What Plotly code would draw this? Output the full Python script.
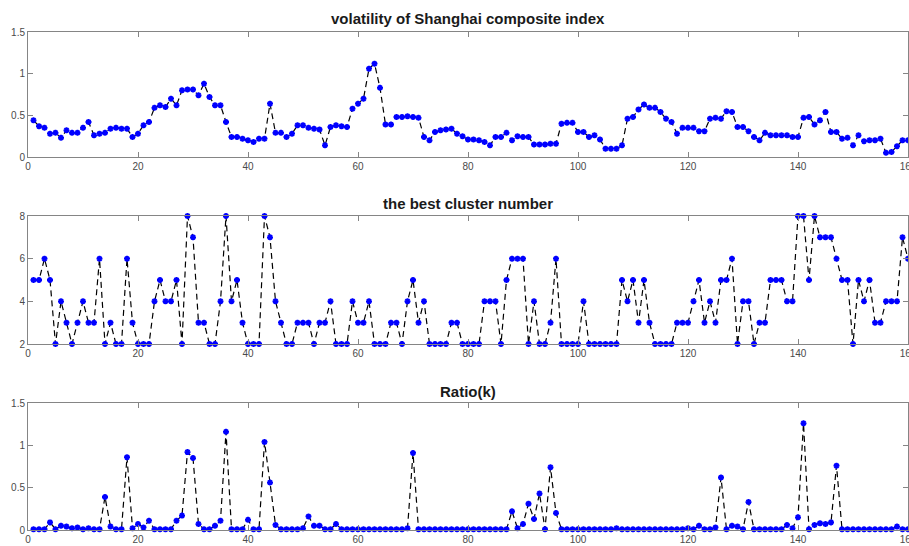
import plotly.graph_objects as go

x_index = list(range(1, 161))

volatility = [
    0.44, 0.37, 0.35, 0.28, 0.29, 0.23, 0.32, 0.29, 0.29, 0.35,
    0.42, 0.26, 0.28, 0.29, 0.34, 0.35, 0.34, 0.34, 0.24, 0.28,
    0.38, 0.42, 0.59, 0.62, 0.60, 0.70, 0.62, 0.80, 0.81, 0.81,
    0.74, 0.88, 0.72, 0.62, 0.62, 0.42, 0.24, 0.24, 0.22, 0.20,
    0.18, 0.22, 0.22, 0.64, 0.29, 0.29, 0.24, 0.28, 0.38, 0.38,
    0.35, 0.34, 0.33, 0.14, 0.36, 0.38, 0.37, 0.36, 0.58, 0.64,
    0.70, 1.06, 1.12, 0.83, 0.39, 0.39, 0.48, 0.48, 0.49, 0.48,
    0.47, 0.24, 0.20, 0.30, 0.32, 0.33, 0.34, 0.28, 0.25, 0.21,
    0.21, 0.20, 0.18, 0.14, 0.24, 0.24, 0.29, 0.20, 0.25, 0.24,
    0.24, 0.15, 0.15, 0.15, 0.16, 0.16, 0.40, 0.41, 0.41, 0.30,
    0.30, 0.24, 0.26, 0.21, 0.10, 0.10, 0.10, 0.14, 0.46, 0.48,
    0.57, 0.63, 0.59, 0.59, 0.54, 0.46, 0.42, 0.28, 0.35, 0.35,
    0.35, 0.31, 0.31, 0.46, 0.47, 0.46, 0.55, 0.54, 0.36, 0.36,
    0.31, 0.24, 0.20, 0.29, 0.26, 0.26, 0.26, 0.26, 0.24, 0.24,
    0.47, 0.48, 0.39, 0.44, 0.54, 0.30, 0.30, 0.22, 0.23, 0.14,
    0.26, 0.19, 0.20, 0.20, 0.22, 0.05, 0.06, 0.13, 0.20, 0.20,
]

cluster_number = [
    5, 5, 6, 5, 2, 4, 3, 2, 3, 4,
    3, 3, 6, 2, 3, 2, 2, 6, 3, 2,
    2, 2, 4, 5, 4, 4, 5, 2, 8, 7,
    3, 3, 2, 2, 4, 8, 4, 5, 3, 2,
    2, 2, 8, 7, 4, 3, 2, 2, 3, 3,
    3, 2, 3, 3, 4, 2, 2, 2, 4, 3,
    3, 4, 2, 2, 2, 3, 3, 2, 4, 5,
    3, 4, 2, 2, 2, 2, 3, 3, 2, 2,
    2, 2, 4, 4, 4, 2, 5, 6, 6, 6,
    2, 4, 2, 2, 3, 6, 2, 2, 2, 2,
    4, 2, 2, 2, 2, 2, 2, 5, 4, 5,
    3, 5, 3, 2, 2, 2, 2, 3, 3, 3,
    4, 5, 3, 4, 3, 5, 5, 6, 2, 4,
    4, 2, 3, 3, 5, 5, 5, 4, 4, 8,
    8, 5, 8, 7, 7, 7, 6, 5, 5, 2,
    5, 4, 5, 3, 3, 4, 4, 4, 7, 6,
]

ratio_k = [
    0.01, 0.01, 0.01, 0.09, 0.01, 0.05, 0.04, 0.02, 0.03, 0.01,
    0.02, 0.01, 0.01, 0.39, 0.04, 0.01, 0.01, 0.86, 0.02, 0.07,
    0.03, 0.11, 0.01, 0.01, 0.01, 0.01, 0.11, 0.17, 0.92, 0.85,
    0.07, 0.01, 0.01, 0.05, 0.11, 1.16, 0.01, 0.01, 0.01, 0.12,
    0.01, 0.01, 1.04, 0.56, 0.06, 0.01, 0.01, 0.01, 0.01, 0.02,
    0.16, 0.05, 0.05, 0.01, 0.01, 0.07, 0.01, 0.01, 0.01, 0.01,
    0.01, 0.01, 0.01, 0.01, 0.01, 0.01, 0.01, 0.01, 0.02, 0.91,
    0.01, 0.01, 0.01, 0.01, 0.01, 0.01, 0.01, 0.01, 0.01, 0.01,
    0.01, 0.01, 0.01, 0.01, 0.01, 0.01, 0.01, 0.22, 0.02, 0.07,
    0.31, 0.13, 0.43, 0.01, 0.74, 0.20, 0.01, 0.01, 0.01, 0.01,
    0.01, 0.01, 0.01, 0.01, 0.01, 0.01, 0.02, 0.01, 0.01, 0.01,
    0.01, 0.01, 0.01, 0.01, 0.01, 0.01, 0.01, 0.01, 0.01, 0.02,
    0.01, 0.05, 0.01, 0.01, 0.03, 0.62, 0.01, 0.05, 0.04, 0.01,
    0.33, 0.01, 0.01, 0.01, 0.01, 0.01, 0.01, 0.06, 0.02, 0.15,
    1.26, 0.01, 0.06, 0.08, 0.07, 0.09, 0.76, 0.01, 0.01, 0.01,
    0.01, 0.01, 0.01, 0.01, 0.01, 0.01, 0.01, 0.04, 0.01, 0.01,
]

titles = ["volatility of Shanghai composite index", "the best cluster number", "Ratio(k)"]
x_ticks = [0, 20, 40, 60, 80, 100, 120, 140, 160]

series = [volatility, cluster_number, ratio_k]
y_ranges = [[0, 1.5], [2, 8], [0, 1.5]]
y_dticks = [0.5, 2, 0.5]

# pixel layout (plot area from y=32 to y=530, x=28 to 908)
T, B = 32, 16
H = 546 - T - B
panels_px = [(32, 157), (216, 344), (403, 530)]
title_px = [18, 204, 391]

def py(p):
    return (546 - B - p) / H

fig = go.Figure()
axis_color = "#858585"
tick_font = dict(family="Liberation Sans, Arial, sans-serif", size=10, color="#4a4a4a")

for i, ys in enumerate(series):
    n = "" if i == 0 else str(i + 1)
    fig.add_trace(go.Scatter(
        x=x_index, y=ys, mode="lines+markers",
        xaxis="x" + n, yaxis="y" + n,
        line=dict(color="black", width=1.2, dash="6px,4px"),
        marker=dict(symbol="asterisk-open", size=5, color="#0000ff",
                    line=dict(color="#0000ff", width=1.8)),
        cliponaxis=False, showlegend=False,
    ))
    top, bot = panels_px[i]
    fig.layout["xaxis" + n] = dict(
        domain=[0, 1], anchor="y" + n, range=[0, 160],
        tickvals=x_ticks, ticks="inside", ticklen=5, tickcolor=axis_color,
        showline=True, linecolor=axis_color, linewidth=1, mirror="allticks",
        showgrid=False, zeroline=False, tickfont=tick_font,
        ticklabeloverflow="allow",
    )
    fig.layout["yaxis" + n] = dict(
        domain=[py(bot), py(top)], anchor="x" + n, range=y_ranges[i],
        dtick=y_dticks[i], tick0=y_ranges[i][0],
        ticks="inside", ticklen=5, tickcolor=axis_color,
        showline=True, linecolor=axis_color, linewidth=1, mirror="allticks",
        showgrid=False, zeroline=False, tickfont=tick_font,
    )
    fig.add_annotation(
        text="<b>" + titles[i] + "</b>", xref="paper", yref="paper",
        x=0.5, y=py(title_px[i]), xanchor="center", yanchor="middle",
        showarrow=False,
        font=dict(family="Liberation Sans, Arial, sans-serif", size=15, color="#1a1a1a"),
    )

fig.update_layout(
    width=909, height=546,
    margin=dict(l=28, r=1, t=T, b=B, autoexpand=False),
    paper_bgcolor="white", plot_bgcolor="white",
)

fig.write_html(
    "out.html",
    config={"displayModeBar": False},
    post_script="document.body.style.margin='0';document.body.style.overflow='hidden';",
)
